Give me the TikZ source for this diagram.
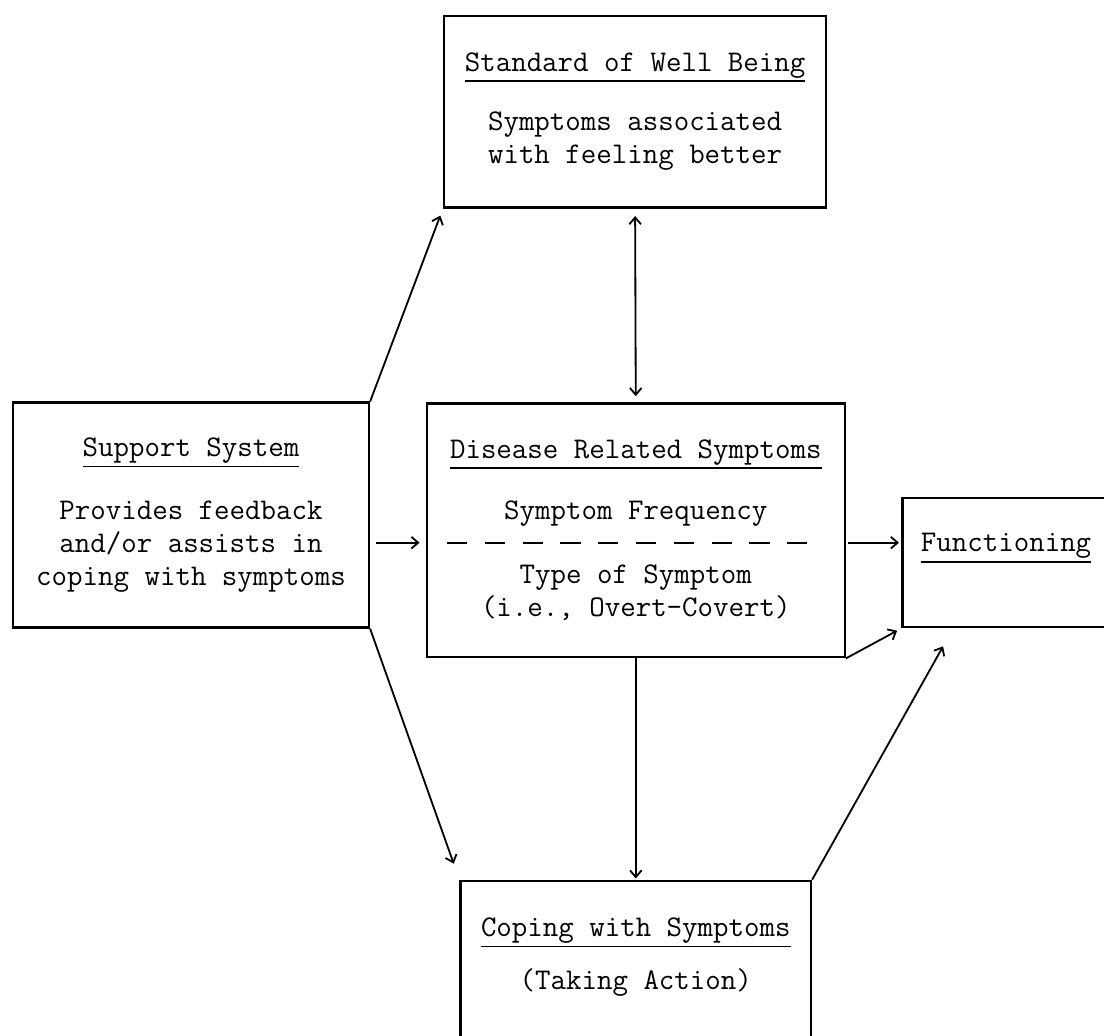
\documentclass[tikz,border=0pt]{standalone}
\usepackage{fontspec}
\usetikzlibrary{arrows.meta}
% thicker underline for the box titles
\newcommand{\headline}[1]{\leavevmode\vtop{\hbox{#1\vphantom{g}}\kern0.9pt\hrule height0.7pt}}

\begin{document}
\begin{tikzpicture}[
	box/.style={
		draw,
		rectangle,
		line width=1pt,
		align=center,
		inner sep=0pt,
		font=\ttfamily\fontsize{12.4}{13.6}\selectfont
	},
	flow/.style={-{Straight Barb[length=2.8pt,width=4.8pt]},line width=0.75pt},
	mutual/.style={{Straight Barb[length=2.8pt,width=4.8pt]}-{Straight Barb[length=2.8pt,width=4.8pt]},line width=0.75pt},
	divider/.style={line width=0.8pt,dash pattern=on 8.3pt off 7.3pt}
	]
	\path[use as bounding box,clip] (0,0) rectangle (16.01,-15.01);

	\node[box,minimum width=5.54cm,minimum height=2.78cm] (wellbeing) at (9.21,-1.62)
		{\headline{Standard of Well Being}\\[11pt]Symptoms associated\\with feeling better};
	\node[box,minimum width=5.16cm,minimum height=3.26cm] (support) at (2.77,-7.47)
		{\headline{Support System}\\[12.5pt]Provides feedback\\and/or assists in\\coping with symptoms};
	\node[box,minimum width=6.06cm,minimum height=3.68cm] (disease) at (9.22,-7.69)
		{\headline{Disease Related Symptoms}\\[11.5pt]Symptom Frequency\\[13.2pt]Type of Symptom\\(i.e., Overt-Covert)};
	\node[box,minimum width=3.00cm,minimum height=1.87cm,text height=8pt,text depth=17pt] (functioning) at (14.59,-8.16)
		{\headline{Functioning}};
	\node[box,minimum width=5.08cm,minimum height=2.45cm,text depth=9.5pt] (coping) at (9.22,-14.00)
		{\headline{Coping with Symptoms}\\[8.3pt](Taking Action)};

	% row of the horizontal arrows and the dashed divider
	\coordinate (row) at (0,-7.87);
	\draw[divider] ([xshift=0.31cm]disease.west |- row) -- ([xshift=-0.48cm]disease.east |- row);

	\draw[flow,shorten >=3pt] (support.north east) -- (wellbeing.south west);
	\draw[mutual,shorten <=3pt,shorten >=2.5pt] (wellbeing.south) -- (disease.north);
	\draw[flow,shorten <=2.5pt,shorten >=2.5pt] (support.east |- row) -- (disease.west |- row);
	\draw[flow,shorten <=1pt,shorten >=1pt] (disease.east |- row) -- (functioning.west |- row);
	\draw[flow,shorten >=2pt] (disease.south east) -- (functioning.south west);
	\draw[flow,shorten >=7pt] (support.south east) -- (coping.north west);
	\draw[flow,shorten >=0.5pt] (disease.south) -- (coping.north);
	\draw[flow,shorten >=8.5pt] (coping.north east) -- ([xshift=0.75cm]functioning.south west);
\end{tikzpicture}
\end{document}
